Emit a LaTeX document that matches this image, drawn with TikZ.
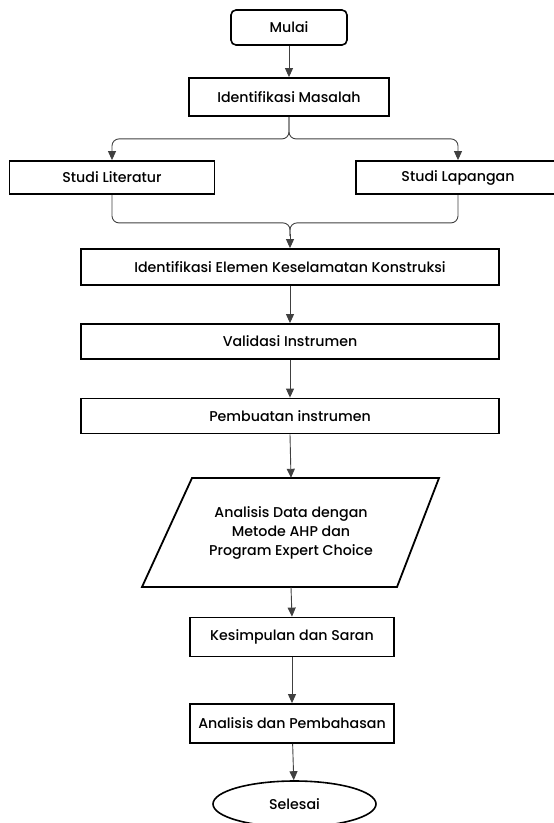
\documentclass[tikz,border=0pt]{standalone}
\usepackage{fontspec}
\setmainfont{Poppins}[UprightFont={* Medium}]
\usetikzlibrary{arrows.meta,shapes.geometric,calc}
\begin{document}
\begin{tikzpicture}[x=1pt,y=-1pt,
  font=\fontsize{14.2}{19}\selectfont,
  box/.style={draw=black,line width=1.8pt,rectangle,inner sep=0pt,align=center},
  term/.style={draw=black,line width=1.6pt,rounded corners=5pt,inner sep=0pt},
  conn/.style={draw=black!75,line width=0.9pt},
  arr/.style={conn,-{Triangle[width=8pt,length=9pt]}}]
\useasboundingbox (0,0) rectangle (554,823);
\node[term,minimum width=116pt,minimum height=35pt] (mulai) at (289,27.5) {Mulai};
\node[box,minimum width=200pt,minimum height=38pt] (im) at (289,97) {Identifikasi Masalah};
\node[box,minimum width=205pt,minimum height=33pt] (sl) at (112,177.5) {Studi Literatur};
\node[box,minimum width=204pt,minimum height=33pt] (slap) at (458,177.5) {Studi Lapangan};
\node[box,minimum width=418pt,minimum height=36pt] (iekk) at (290,267) {Identifikasi Elemen Keselamatan Konstruksi};
\node[box,minimum width=418pt,minimum height=35pt] (vi) at (290,341.5) {Validasi Instrumen};
\node[box,minimum width=418pt,minimum height=35pt] (pi) at (290,416) {Pembuatan instrumen};
\draw[line width=1.8pt,line join=miter] (192,478) -- (439,478) -- (397,587) -- (142,587) -- cycle;
\node[inner sep=0pt,minimum height=109pt,minimum width=10pt,align=center] (ad) at (291,532.5)
  {Analisis Data dengan\\Metode AHP dan\\Program Expert Choice};
\node[box,minimum width=204pt,minimum height=39pt] (ks) at (292,637) {Kesimpulan dan Saran};
\node[box,minimum width=204pt,minimum height=39pt] (ap) at (292,723.5) {Analisis dan Pembahasan};
\node[draw=black,line width=1.6pt,ellipse,minimum width=163pt,minimum height=46pt,inner sep=0pt] (sel) at (294.5,804) {Selesai};
\draw[arr] (mulai) -- (im);
\draw[arr,rounded corners=7pt] (im.south) -- ($(im.south)+(0,22)$) -| (sl.north);
\draw[arr,rounded corners=7pt] (im.south) -- ($(im.south)+(0,22)$) -| (slap.north);
\draw[conn,rounded corners=7pt] (sl.south) -- ($(sl.south)+(0,28)$) -| ($(iekk.north)+(0,-12)$);
\draw[conn,rounded corners=7pt] (slap.south) -- ($(slap.south)+(0,28)$) -| ($(iekk.north)+(0,-12)$);
\draw[arr] ($(iekk.north)+(0,-14)$) -- (iekk.north);
\draw[arr] (iekk) -- (vi);
\draw[arr] (vi) -- (pi);
\draw[arr] (pi.south) -- (ad.north);
\draw[arr] (ad.south) -- (ks.north);
\draw[arr] (ks) -- (ap);
\draw[arr] (ap) -- (sel);
\end{tikzpicture}
\end{document}
